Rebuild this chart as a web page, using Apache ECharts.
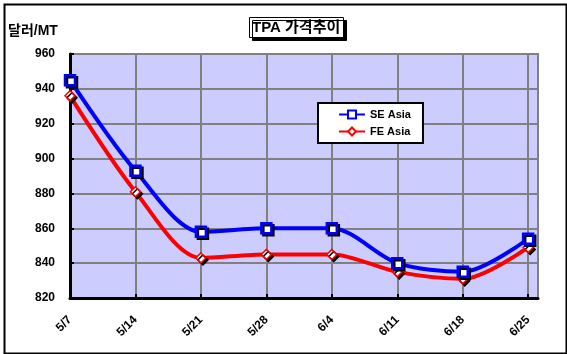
<!DOCTYPE html>
<html>
<head>
<meta charset="utf-8">
<script src="https://cdn.jsdelivr.net/npm/echarts@6/dist/echarts.min.js"></script>
<style>
  html, body { margin: 0; padding: 0; background: #fff; }
  #chart { width: 567px; height: 354px; }
</style>
</head>
<body>
<div id="chart"></div>
<script>
var dates = ['5/7', '5/14', '5/21', '5/28', '6/4', '6/11', '6/18', '6/25']
var seAsia = [945, 893, 858, 860, 860, 840, 835, 854]
var feAsia = [936, 881, 843, 845, 845, 835, 831, 849]

function toPoints (arr) {
  return arr.map(function (v, i) { return [i, v] })
}

var myChart = echarts.init(document.getElementById('chart'))
var font = 'Arial, "Liberation Sans", "Noto Sans CJK KR", sans-serif'

var option = {
  backgroundColor: '#fff',
  animation: false,
  title: {
    text: 'TPA 가격추이',
    left: 249,
    top: 17,
    padding: [3, 3, 3, 3],
    backgroundColor: '#fff',
    borderColor: '#000',
    borderWidth: 1,
    shadowColor: '#000',
    shadowOffsetX: 3,
    shadowOffsetY: 3,
    textStyle: { fontFamily: font, fontSize: 15, fontWeight: 'bold', color: '#000' }
  },
  legend: {
    orient: 'vertical',
    left: 318,
    top: 103,
    width: 107,
    padding: [6, 12, 6, 20],
    itemGap: 6,
    itemWidth: 26,
    itemHeight: 10,
    backgroundColor: '#fff',
    borderColor: '#000',
    borderWidth: 2,
    textStyle: { fontFamily: font, fontSize: 11, fontWeight: 'bold', color: '#000' },
    data: ['SE Asia', 'FE Asia']
  },
  grid: {
    left: 70,
    top: 54,
    right: 29,
    bottom: 56,
    show: true,
    backgroundColor: '#ccccff',
    borderColor: '#808080',
    borderWidth: 2
  },
  xAxis: {
    type: 'value',
    min: 0,
    max: 7.15,
    interval: 1,
    axisLine: { onZero: false, lineStyle: { color: '#000', width: 3 } },
    axisTick: { inside: true, length: 4, lineStyle: { color: '#000', width: 2 } },
    splitLine: { show: true, lineStyle: { color: '#808080', width: 2 } },
    axisLabel: {
      rotate: 45,
      margin: 20,
      showMaxLabel: false,
      fontFamily: font,
      fontSize: 12,
      fontWeight: 'bold',
      color: '#000',
      formatter: function (v) { return dates[v] !== undefined ? dates[v] : '' }
    }
  },
  yAxis: {
    type: 'value',
    name: '달러/MT',
    nameLocation: 'end',
    nameGap: 16,
    nameTextStyle: { fontFamily: font, fontSize: 14, fontWeight: 'bold', color: '#000', align: 'left', padding: [0, 0, 0, -62] },
    min: 820,
    max: 960,
    interval: 20,
    axisLine: { show: true, lineStyle: { color: '#000', width: 3 } },
    axisTick: { show: true, inside: true, length: 4, lineStyle: { color: '#000', width: 2 } },
    splitLine: { show: true, lineStyle: { color: '#808080', width: 2 } },
    axisLabel: { margin: 15, fontFamily: font, fontSize: 12, fontWeight: 'bold', color: '#000' }
  },
  series: [
    {
      name: 'SE Asia',
      type: 'line',
      smooth: 0.3,
      symbol: 'rect',
      symbolSize: 10,
      z: 3,
      lineStyle: { color: '#0000ff', width: 4 },
      itemStyle: { color: '#fff', borderColor: '#0000ff', borderWidth: 2.5, shadowColor: '#000', shadowOffsetX: 2, shadowOffsetY: 2 },
      data: toPoints(seAsia)
    },
    {
      name: 'FE Asia',
      type: 'line',
      smooth: 0.3,
      symbol: 'diamond',
      symbolSize: 10,
      z: 2,
      lineStyle: { color: '#ff0000', width: 4 },
      itemStyle: { color: '#fff', borderColor: '#ff0000', borderWidth: 1.5, shadowColor: '#000', shadowOffsetX: 2, shadowOffsetY: 2 },
      data: toPoints(feAsia)
    }
  ],
  graphic: [
    {
      type: 'rect',
      left: 2,
      top: 2,
      shape: { width: 562, height: 349 },
      style: { fill: 'none', stroke: '#000', lineWidth: 2 },
      z: 100
    }
  ]
}

myChart.setOption(option)
</script>
</body>
</html>
